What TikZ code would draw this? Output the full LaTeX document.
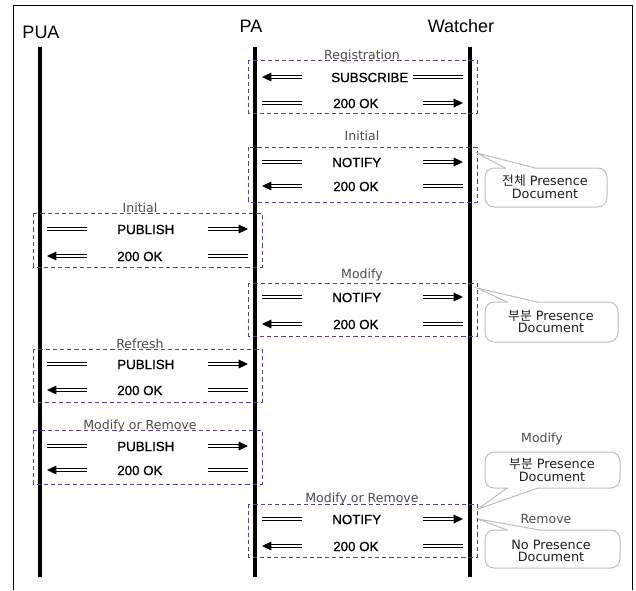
\documentclass[tikz,border=0pt]{standalone}
\usepackage{fontspec}
\setmainfont{Liberation Sans}
\newfontfamily\msgfont[FakeBold=0.9]{Liberation Sans}
\newfontfamily\lblfont{DejaVu Sans}
\newfontfamily\krfont{Noto Sans CJK KR}
\usetikzlibrary{arrows.meta}
\definecolor{grpcol}{RGB}{85,65,145}
\definecolor{lblcol}{RGB}{75,75,75}
\definecolor{bubcol}{RGB}{190,190,190}
\definecolor{bubtxt}{RGB}{30,30,30}
\begin{document}
\begin{tikzpicture}[x=0.75pt,y=-0.75pt,
  frame/.style={line width=0.75pt},
  lifeline/.style={line width=2.3pt},
  grp/.style={draw=grpcol, dash pattern=on 3.2pt off 2.2pt, line width=0.75pt},
  seg/.style={double, line width=0.8pt, double distance=1.2pt},
  arr/.style={seg, -{Triangle[length=7pt,width=6.5pt]}},
  msgtxt/.style={anchor=west, inner sep=0pt, font=\msgfont\fontsize{10}{12}\selectfont},
  lbl/.style={anchor=base, inner sep=0pt, text=lblcol, font=\lblfont\fontsize{9.4}{11}\selectfont},
  hdr/.style={anchor=base, inner sep=0pt, font=\fontsize{13.5}{16}\selectfont},
  bubble/.style={draw=bubcol, fill=white, line width=0.75pt, rounded corners=7pt},
  bubline/.style={draw=bubcol, line width=0.75pt},
  bubtext/.style={align=center, inner sep=0pt, text=bubtxt, font=\lblfont\fontsize{9.6}{9.6}\selectfont}
]
\useasboundingbox (0,0) rectangle (636,590);
% frame
\draw[frame] (13,590) -- (13,5) -- (632,5) -- (632,590);

% headers
\node[hdr] (hPUA) at (41,38) {PUA};
\node[hdr] (hPA) at (251,32) {PA};
\node[hdr] (hW) at (461,32) {Watcher};

% lifelines
\coordinate (puaT) at (40,47);  \coordinate (puaB) at (40,577);
\coordinate (paT) at (255,47);  \coordinate (paB) at (255,577);
\coordinate (wT) at (470,47);   \coordinate (wB) at (470,577);
\draw[lifeline] (puaT) -- (puaB);
\draw[lifeline] (paT) -- (paB);
\draw[lifeline] (wT) -- (wB);

% ---------- PA <-> Watcher groups ----------
% Registration
\draw[grp] (248,60) rectangle (477,113);
\node[lbl] (lReg) at (362,59) {Registration};
\draw[arr] (302,77) -- (262,77);
\node[msgtxt] (mSub) at (331,77.5) {SUBSCRIBE};
\draw[seg] (413,77) -- (463,77);
\draw[seg] (262,103) -- (302,103);
\node[msgtxt] (mOk1) at (333,103.5) {200 OK};
\draw[arr] (423,103) -- (463,103);

% Initial NOTIFY
\draw[grp] (248,147) rectangle (477,202);
\node[lbl] (lIni1) at (362,140) {Initial};
\draw[seg] (262,162) -- (302,162);
\node[msgtxt] (mNot1) at (332,162.5) {NOTIFY};
\draw[arr] (423,162) -- (463,162);
\draw[arr] (302,186) -- (262,186);
\node[msgtxt] (mOk2) at (333,186.5) {200 OK};
\draw[seg] (423,186) -- (463,186);

% Modify NOTIFY
\draw[grp] (248,283) rectangle (477,336);
\node[lbl] (lMod) at (362,278) {Modify};
\draw[seg] (262,297) -- (302,297);
\node[msgtxt] (mNot2) at (332,297.5) {NOTIFY};
\draw[arr] (423,297) -- (463,297);
\draw[arr] (302,324) -- (262,324);
\node[msgtxt] (mOk3) at (333,324.5) {200 OK};
\draw[seg] (423,324) -- (463,324);

% Modify or Remove NOTIFY
\draw[grp] (248,504) rectangle (477,557);
\node[lbl] (lMoR2) at (362,502) {Modify or Remove};
\draw[seg] (262,519) -- (302,519);
\node[msgtxt] (mNot3) at (332,519.5) {NOTIFY};
\draw[arr] (423,519) -- (463,519);
\draw[arr] (302,546) -- (262,546);
\node[msgtxt] (mOk4) at (333,546.5) {200 OK};
\draw[seg] (423,546) -- (463,546);

% ---------- PUA <-> PA groups ----------
% Initial PUBLISH
\draw[grp] (33,213) rectangle (262,267);
\node[lbl] (lIni2) at (140,212) {Initial};
\draw[seg] (47,229) -- (87,229);
\node[msgtxt] (mPub1) at (117,229.5) {PUBLISH};
\draw[arr] (208,229) -- (248,229);
\draw[arr] (87,256) -- (47,256);
\node[msgtxt] (mOk5) at (117,256.5) {200 OK};
\draw[seg] (208,256) -- (248,256);

% Refresh
\draw[grp] (33,349) rectangle (262,402);
\node[lbl] (lRef) at (140,348) {Refresh};
\draw[seg] (47,364) -- (87,364);
\node[msgtxt] (mPub2) at (117,364.5) {PUBLISH};
\draw[arr] (208,364) -- (248,364);
\draw[arr] (87,390) -- (47,390);
\node[msgtxt] (mOk6) at (117,390.5) {200 OK};
\draw[seg] (208,390) -- (248,390);

% Modify or Remove PUBLISH
\draw[grp] (33,430) rectangle (262,484);
\node[lbl] (lMoR1) at (140,429) {Modify or Remove};
\draw[seg] (47,446) -- (87,446);
\node[msgtxt] (mPub3) at (117,446.5) {PUBLISH};
\draw[arr] (208,446) -- (248,446);
\draw[arr] (87,470) -- (47,470);
\node[msgtxt] (mOk7) at (117,470.5) {200 OK};
\draw[seg] (208,470) -- (248,470);

% ---------- callouts ----------
% bubble A (pointer on top)
\draw[bubble] (485,168) rectangle (607,207);
\fill[white] (506,171) -- (506,165) -- (477,153) -- (534,165) -- (534,171) -- cycle;
\draw[bubline] (505,168) -- (477,153) -- (535,168);
\node[bubtext] (bA) at (545,187) {{\krfont 전체} Presence\\Document};

% bubble B (pointer on top)
\draw[bubble] (485,302) rectangle (618,342);
\fill[white] (508,305) -- (508,299) -- (477,288) -- (536,299) -- (536,305) -- cycle;
\draw[bubline] (507,302) -- (477,288) -- (537,302);
\node[bubtext] (bB) at (551,321.5) {{\krfont 부분} Presence\\Document};

% Modify / Remove labels
\node[lbl] (lMod2) at (542,442) {Modify};
\node[lbl] (lRem) at (546,523) {Remove};

% bubble C (pointer at bottom)
\draw[bubble] (485,452) rectangle (620,488);
\fill[white] (508,485) -- (508,491) -- (478,509) -- (537,491) -- (537,485) -- cycle;
\draw[bubline] (507,488) -- (478,509) -- (538,488);
\node[bubtext] (bC) at (552,470) {{\krfont 부분} Presence\\Document};

% bubble D (pointer on top)
\draw[bubble] (485,530) rectangle (620,568);
\fill[white] (508,533) -- (508,527) -- (478,519) -- (539,527) -- (539,533) -- cycle;
\draw[bubline] (507,530) -- (478,519) -- (540,530);
\node[bubtext] (bD) at (551,551) {No Presence\\Document};
\end{tikzpicture}
\end{document}
